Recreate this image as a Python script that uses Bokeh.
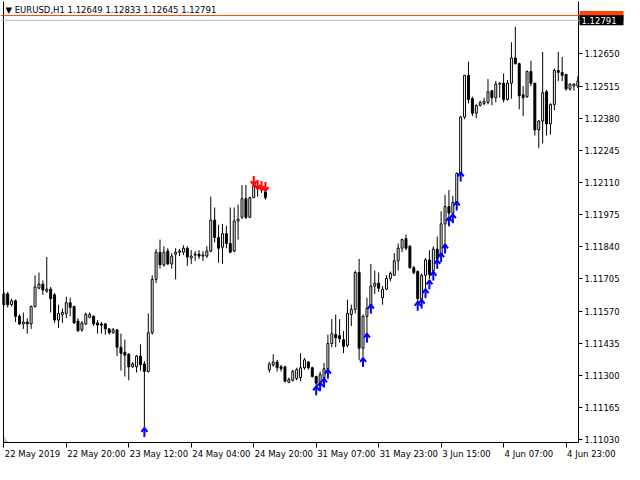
from bokeh.plotting import figure
from bokeh.models import Range1d, FixedTicker, Span, Label, PrintfTickFormatter, LinearAxis
from bokeh.core.properties import value
from bokeh.embed import file_html
from bokeh.resources import INLINE

# ---- EURUSD H1 candles (bar index order) ----
open_ = [
    1.11597, 1.11642, 1.11597, 1.11613, 1.11548, 1.11516, 1.11524, 1.11516, 1.11589, 1.11666,
    1.11683, 1.11654, 1.11662, 1.11638, 1.11532, 1.11556, 1.11560, 1.11605, 1.11589, 1.11528,
    1.11491, 1.11516, 1.11544, 1.11548, 1.11520, 1.11516, 1.11516, 1.11495, 1.11479, 1.11491,
    1.11418, 1.11397, 1.11389, 1.11336, 1.11336, 1.11381, 1.11348, 1.11316, 1.11479, 1.11703,
    1.11817, 1.11764, 1.11822, 1.11768, 1.11809, 1.11817, 1.11817, 1.11834, 1.11793, 1.11805,
    1.11809, 1.11801, 1.11801, 1.11822, 1.11952, 1.11879, 1.11838, 1.11895, 1.11854, 1.11822,
    1.11948, 1.11964, 1.12042, 1.11964, 1.12046, 1.12083, 1.12083, 1.12070, 1.11324, 1.11344,
    1.11356, 1.11336, 1.11336, 1.11271, 1.11279, 1.11287, 1.11291, 1.11332, 1.11356, 1.11332,
    1.11295, 1.11271, 1.11291, 1.11328, 1.11434, 1.11471, 1.11467, 1.11450, 1.11426, 1.11556,
    1.11577, 1.11732, 1.11414, 1.11548, 1.11589, 1.11675, 1.11687, 1.11626, 1.11662, 1.11707,
    1.11720, 1.11781, 1.11834, 1.11874, 1.11842, 1.11752, 1.11736, 1.11622, 1.11720, 1.11785,
    1.11740, 1.11830, 1.11809, 1.11936, 1.12009, 1.11981, 1.12026, 1.12148, 1.12385, 1.12560,
    1.12462, 1.12401, 1.12434, 1.12442, 1.12446, 1.12495, 1.12466, 1.12523, 1.12527, 1.12458,
    1.12527, 1.12633, 1.12609, 1.12478, 1.12470, 1.12576, 1.12527, 1.12331, 1.12368, 1.12491,
    1.12356, 1.12438, 1.12580, 1.12572, 1.12564, 1.12503, 1.12515, 1.12515,
]
high = [
    1.11650, 1.11650, 1.11622, 1.11618, 1.11556, 1.11564, 1.11540, 1.11593, 1.11720, 1.11732,
    1.11699, 1.11797, 1.11671, 1.11646, 1.11597, 1.11581, 1.11630, 1.11626, 1.11593, 1.11540,
    1.11528, 1.11564, 1.11564, 1.11552, 1.11532, 1.11524, 1.11520, 1.11499, 1.11499, 1.11495,
    1.11475, 1.11450, 1.11393, 1.11356, 1.11385, 1.11430, 1.11360, 1.11560, 1.11720, 1.11830,
    1.11870, 1.11842, 1.11834, 1.11813, 1.11834, 1.11830, 1.11846, 1.11842, 1.11826, 1.11822,
    1.11826, 1.11822, 1.11842, 1.12050, 1.12005, 1.11932, 1.11936, 1.11928, 1.12005, 1.12005,
    1.12017, 1.12099, 1.12099, 1.12050, 1.12132, 1.12099, 1.12091, 1.12083, 1.11356, 1.11389,
    1.11365, 1.11344, 1.11340, 1.11291, 1.11324, 1.11332, 1.11393, 1.11373, 1.11360, 1.11336,
    1.11299, 1.11316, 1.11352, 1.11471, 1.11536, 1.11556, 1.11536, 1.11487, 1.11618, 1.11597,
    1.11740, 1.11789, 1.11556, 1.11626, 1.11768, 1.11740, 1.11732, 1.11675, 1.11720, 1.11736,
    1.11813, 1.11854, 1.11874, 1.11891, 1.11846, 1.11760, 1.11740, 1.11728, 1.11793, 1.11826,
    1.11842, 1.11883, 1.11989, 1.12058, 1.12078, 1.12054, 1.12152, 1.12389, 1.12560, 1.12617,
    1.12470, 1.12438, 1.12454, 1.12466, 1.12544, 1.12499, 1.12536, 1.12531, 1.12568, 1.12540,
    1.12699, 1.12764, 1.12613, 1.12515, 1.12580, 1.12621, 1.12527, 1.12372, 1.12658, 1.12499,
    1.12442, 1.12589, 1.12658, 1.12637, 1.12564, 1.12527, 1.12527, 1.12556,
]
low = [
    1.11589, 1.11585, 1.11589, 1.11524, 1.11511, 1.11495, 1.11475, 1.11495, 1.11585, 1.11662,
    1.11638, 1.11646, 1.11564, 1.11520, 1.11499, 1.11520, 1.11540, 1.11548, 1.11516, 1.11483,
    1.11483, 1.11511, 1.11540, 1.11507, 1.11475, 1.11475, 1.11471, 1.11471, 1.11475, 1.11381,
    1.11320, 1.11295, 1.11279, 1.11332, 1.11312, 1.11320, 1.11083, 1.11312, 1.11471, 1.11687,
    1.11748, 1.11756, 1.11764, 1.11748, 1.11703, 1.11801, 1.11805, 1.11760, 1.11768, 1.11781,
    1.11789, 1.11781, 1.11793, 1.11817, 1.11858, 1.11773, 1.11768, 1.11834, 1.11813, 1.11817,
    1.11870, 1.11956, 1.11956, 1.11960, 1.12046, 1.12050, 1.12066, 1.12038, 1.11312, 1.11336,
    1.11316, 1.11316, 1.11271, 1.11267, 1.11275, 1.11279, 1.11275, 1.11324, 1.11324, 1.11291,
    1.11250, 1.11254, 1.11275, 1.11316, 1.11418, 1.11418, 1.11438, 1.11393, 1.11418, 1.11507,
    1.11560, 1.11365, 1.11377, 1.11475, 1.11581, 1.11642, 1.11650, 1.11597, 1.11658, 1.11695,
    1.11720, 1.11740, 1.11817, 1.11826, 1.11748, 1.11724, 1.11597, 1.11609, 1.11650, 1.11703,
    1.11724, 1.11773, 1.11793, 1.11842, 1.11964, 1.11972, 1.12021, 1.12140, 1.12376, 1.12442,
    1.12389, 1.12380, 1.12429, 1.12434, 1.12438, 1.12434, 1.12446, 1.12466, 1.12446, 1.12454,
    1.12462, 1.12605, 1.12417, 1.12389, 1.12466, 1.12515, 1.12307, 1.12254, 1.12274, 1.12307,
    1.12311, 1.12413, 1.12536, 1.12536, 1.12495, 1.12495, 1.12495, 1.12507,
]
close = [
    1.11642, 1.11597, 1.11613, 1.11548, 1.11516, 1.11524, 1.11516, 1.11589, 1.11671, 1.11683,
    1.11658, 1.11662, 1.11622, 1.11532, 1.11560, 1.11564, 1.11605, 1.11585, 1.11520, 1.11487,
    1.11520, 1.11556, 1.11556, 1.11516, 1.11511, 1.11511, 1.11495, 1.11479, 1.11491, 1.11418,
    1.11393, 1.11385, 1.11336, 1.11348, 1.11381, 1.11344, 1.11316, 1.11479, 1.11703, 1.11817,
    1.11764, 1.11817, 1.11768, 1.11801, 1.11817, 1.11822, 1.11834, 1.11797, 1.11801, 1.11809,
    1.11801, 1.11805, 1.11822, 1.11952, 1.11879, 1.11834, 1.11895, 1.11854, 1.11817, 1.11948,
    1.11956, 1.12042, 1.11964, 1.12046, 1.12095, 1.12087, 1.12078, 1.12046, 1.11348, 1.11356,
    1.11332, 1.11328, 1.11275, 1.11283, 1.11316, 1.11324, 1.11332, 1.11365, 1.11332, 1.11295,
    1.11267, 1.11303, 1.11328, 1.11434, 1.11475, 1.11458, 1.11454, 1.11422, 1.11560, 1.11577,
    1.11732, 1.11414, 1.11548, 1.11581, 1.11675, 1.11687, 1.11666, 1.11662, 1.11707, 1.11728,
    1.11781, 1.11834, 1.11870, 1.11834, 1.11752, 1.11732, 1.11622, 1.11720, 1.11785, 1.11724,
    1.11830, 1.11789, 1.11936, 1.12009, 1.11981, 1.12026, 1.12148, 1.12385, 1.12560, 1.12458,
    1.12401, 1.12434, 1.12446, 1.12450, 1.12491, 1.12466, 1.12523, 1.12527, 1.12458, 1.12527,
    1.12633, 1.12609, 1.12474, 1.12466, 1.12576, 1.12527, 1.12331, 1.12368, 1.12487, 1.12356,
    1.12438, 1.12580, 1.12572, 1.12560, 1.12503, 1.12523, 1.12523, 1.12536,
]

# ---- indicator arrows ----
buy_idx = [36, 80, 81, 82, 83, 92, 93, 94, 106, 107, 108, 109, 110, 111, 112, 113, 114, 115, 116, 117]
buy_price = [1.11079, 1.11254, 1.11271, 1.11287, 1.11324, 1.11373, 1.11475, 1.11597, 1.11609, 1.11618,
             1.11662, 1.11699, 1.11736, 1.11785, 1.11813, 1.11850, 1.11964, 1.11977, 1.12030, 1.12152]
sell_idx = [64, 65, 66, 67]
sell_price = [1.12099, 1.12083, 1.12078, 1.12074]

# ---- axes ----
time_tick_idx = [0, 16, 32, 48, 64, 80, 96, 112, 128, 144]
time_tick_labels = ["22 May 2019", "22 May 20:00", "23 May 12:00", "24 May 04:00", "24 May 20:00",
                    "31 May 07:00", "31 May 23:00", "3 Jun 15:00", "4 Jun 07:00", "4 Jun 23:00"]
price_ticks = [1.11030, 1.11165, 1.11300, 1.11435, 1.11570, 1.11705, 1.11840,
               1.11975, 1.12110, 1.12245, 1.12380, 1.12515, 1.12650]
header = "\u25BC EURUSD,H1  1.12649 1.12833 1.12645 1.12791"
bid_price = 1.12791
ask_price = 1.12811
bid_text = "1.12791"

FONT = "DejaVu Sans"
FSIZE = "8.5px"
W, H = 624, 464
L_PAD, T_PAD, R_AREA, B_AREA = 3, 1, 46, 22
CW, CH = W - L_PAD - R_AREA, H - T_PAD - B_AREA
x0, x1 = -0.08, 147.18          # visible bar window
y0, y1 = 1.11018, 1.12870       # visible price window
bpx = (x1 - x0) / CW            # data units per pixel
ppx = (y1 - y0) / CH

p = figure(width=W, height=H,
           x_range=Range1d(x0 - L_PAD * bpx, x1 + R_AREA * bpx),
           y_range=Range1d(y0 - B_AREA * ppx, y1 + T_PAD * ppx),
           output_backend="svg", toolbar_location=None,
           x_axis_location=None, y_axis_location=None,
           min_border=0, min_border_left=0, min_border_right=0,
           min_border_top=0, min_border_bottom=0,
           background_fill_color="white", border_fill_color="white",
           outline_line_color=None)
p.grid.visible = False

# price lines
p.add_layout(Span(location=ask_price, dimension="width", line_color="#FF4500", line_width=1))
p.add_layout(Span(location=bid_price, dimension="width", line_color="#C0C0C0", line_width=1))

idx = list(range(len(open_)))
tops = [max(o, c) for o, c in zip(open_, close)]
bots = [min(o, c) for o, c in zip(open_, close)]
fills = ["white" if c >= o else "black" for o, c in zip(open_, close)]

p.segment(x0=idx, y0=low, x1=idx, y1=high, line_color="black", line_width=1)
p.vbar(x=idx, top=tops, bottom=bots, width=0.5, fill_color=fills,
       line_color="black", line_width=1)

bxs, bys = [], []
for k, t in zip(buy_idx, buy_price):
    bxs.append([k, k]); bys.append([t, t - 9 * ppx])
    bxs.append([k - 3 * bpx, k, k + 3 * bpx]); bys.append([t - 4 * ppx, t, t - 4 * ppx])
p.multi_line(bxs, bys, line_color="#0000FF", line_width=2)

rxs, rys = [], []
for k, t in zip(sell_idx, sell_price):
    rxs.append([k, k]); rys.append([t, t + 9 * ppx])
    rxs.append([k - 3 * bpx, k, k + 3 * bpx]); rys.append([t + 4 * ppx, t, t + 4 * ppx])
p.multi_line(rxs, rys, line_color="#FF0000", line_width=2)

# small grey shift marker in the lower-left corner
p.patch([x0, x0, x0 + 5 * bpx], [y0 + 7 * ppx, y0, y0], fill_color="#C8C8C8", line_color=None)

# ---- axes (fixed at the chart window edges) ----
xa = LinearAxis(fixed_location=y0, bounds=(x0, x1),
                ticker=FixedTicker(ticks=time_tick_idx),
                major_label_overrides={i: "" for i in time_tick_idx},
                major_tick_out=5, major_tick_in=0, minor_tick_line_color=None,
                axis_line_color="black", major_tick_line_color="black")
p.add_layout(xa, "below")

ya = LinearAxis(fixed_location=x1, bounds=(y0, y1),
                ticker=FixedTicker(ticks=price_ticks),
                formatter=PrintfTickFormatter(format="%.5f"),
                major_label_text_font=FONT, major_label_text_font_size=FSIZE,
                major_label_text_color="black", major_label_standoff=2,
                major_tick_out=4, major_tick_in=0, minor_tick_line_color=None,
                axis_line_color="black", major_tick_line_color="black")
p.add_layout(ya, "right")

la = LinearAxis(fixed_location=x0, bounds=(y0, y1), ticker=FixedTicker(ticks=[]),
                major_tick_out=0, major_tick_in=0, minor_tick_line_color=None,
                major_label_text_font_size="0px", axis_line_color="black")
p.add_layout(la, "left")

# time labels (left-aligned at their tick, as in the terminal)
p.text(x=time_tick_idx, y=[y0] * len(time_tick_idx), text=time_tick_labels,
       text_align="left", text_baseline="top", x_offset=1, y_offset=6,
       text_font=value(FONT), text_font_size=value(FSIZE), text_color="black")

# header text
p.add_layout(Label(x=x0, y=y1, x_offset=2, y_offset=-3, text=header,
                   text_baseline="top", text_font=FONT, text_font_size=FSIZE,
                   text_color="black"))

# price tags in the price column
tag_cx = x1 + 23 * bpx
ra = p.rect(x=[tag_cx], y=[ask_price], width=44, height=9, width_units="screen",
            height_units="screen", fill_color="#FF4500", line_color=None)
rb = p.rect(x=[tag_cx], y=[bid_price], width=44, height=10, width_units="screen",
            height_units="screen", fill_color="black", line_color=None)
tb = p.text(x=[x1], y=[bid_price], text=[bid_text], x_offset=3, text_baseline="middle",
            text_font=value(FONT), text_font_size=value(FSIZE), text_color="white")
for r in (ra, rb, tb):
    r.level = "overlay"

open("out.html", "w").write(file_html(p, INLINE))
